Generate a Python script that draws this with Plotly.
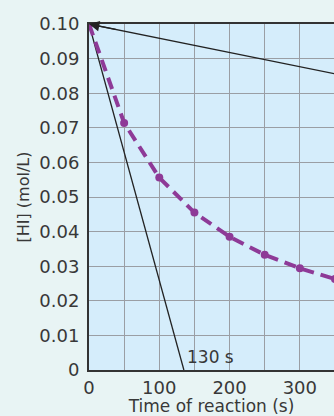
import plotly.graph_objects as go

# Data
time_s = [0, 50, 100, 150, 200, 250, 300, 350]
hi_conc = [0.100, 0.0714, 0.0556, 0.0455, 0.0385, 0.0333, 0.0294, 0.0263]
tangent0_t = [0, 135]
tangent0_c = [0.100, 0.0]
tangent2_t = [0, 360]
tangent2_c = [0.100, 0.0852]
x_ticks = [0, 100, 200, 300]
y_ticks = [0, 0.01, 0.02, 0.03, 0.04, 0.05, 0.06, 0.07, 0.08, 0.09, 0.10]
y_tick_text = ["0", "0.01", "0.02", "0.03", "0.04", "0.05", "0.06", "0.07", "0.08", "0.09", "0.10"]

FONT = "DejaVu Sans"
TXT = "#383838"
PURPLE = "#8E3A97"

fig = go.Figure()
fig.add_trace(go.Scatter(x=tangent0_t, y=tangent0_c, mode="lines",
                         line=dict(color="#222222", width=1.3), hoverinfo="skip"))
fig.add_trace(go.Scatter(x=tangent2_t, y=tangent2_c, mode="lines",
                         line=dict(color="#222222", width=1.3), hoverinfo="skip"))
fig.add_trace(go.Scatter(x=time_s, y=hi_conc, mode="lines+markers",
                         line=dict(color=PURPLE, width=4, dash="12px,7px"),
                         marker=dict(color=PURPLE, size=8), cliponaxis=True))

fig.add_annotation(x=0, y=0.100, ax=40, ay=0.09833, xref="x", yref="y",
                   axref="x", ayref="y", showarrow=True, arrowhead=2,
                   arrowsize=1.6, arrowwidth=1.3, arrowcolor="#222222", text="")
fig.add_annotation(x=137, y=0.0037, text="130 s", showarrow=False,
                   xanchor="left", yanchor="middle",
                   font=dict(family=FONT, size=17, color=TXT))

fig.update_layout(
    width=334, height=416,
    margin=dict(l=89, r=0, t=24, b=46),
    paper_bgcolor="#E8F4F4",
    plot_bgcolor="#D5EDFB",
    showlegend=False,
    font=dict(family=FONT, size=17, color=TXT),
)
fig.update_xaxes(range=[0, 348.6], tickvals=x_ticks, ticks="",
                 showgrid=True, gridcolor="#9A9EA4", gridwidth=1.2,
                 minor=dict(dtick=50, showgrid=True, gridcolor="#9A9EA4", gridwidth=1.2),
                 showline=True, linecolor="#333333", linewidth=2, mirror=True,
                 zeroline=False,
                 title=dict(text="Time of reaction (s)", standoff=2,
                            font=dict(family=FONT, size=17, color=TXT)),
                 tickfont=dict(family=FONT, size=18, color=TXT))
fig.update_yaxes(range=[0, 0.100], tickvals=y_ticks, ticktext=y_tick_text, ticks="",
                 showgrid=True, gridcolor="#9A9EA4", gridwidth=1.2,
                 showline=True, linecolor="#333333", linewidth=2,
                 zeroline=False, ticklabelstandoff=4,
                 title=dict(text="[HI] (mol/L)", standoff=6,
                            font=dict(family=FONT, size=16, color=TXT)),
                 tickfont=dict(family=FONT, size=18, color=TXT))

fig.write_html("out.html")
